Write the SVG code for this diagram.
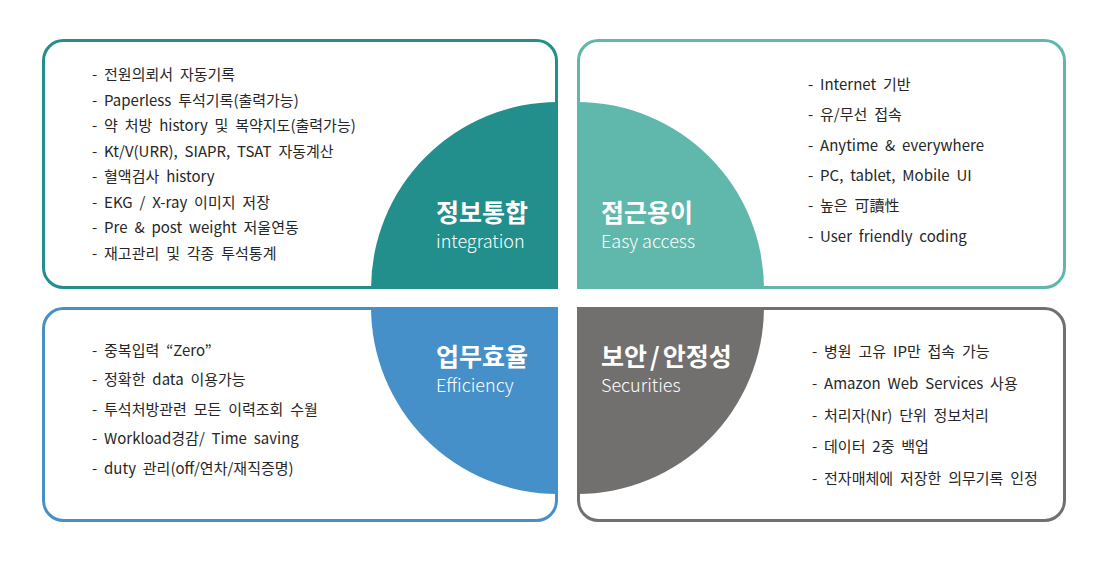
<svg xmlns="http://www.w3.org/2000/svg" width="1110" height="570" viewBox="0 0 1110 570">
<style>
.box{fill:#fff;stroke-width:3}
.li{font-family:"Noto Sans CJK KR","Noto Sans",sans-serif;font-size:15px;word-spacing:3.5px;fill:#262626}
.tt{font-family:"Noto Sans CJK KR","Noto Sans",sans-serif;font-size:25px;font-weight:700;fill:#fff}
.st{font-family:"Noto Sans CJK KR","Noto Sans",sans-serif;font-size:18px;font-weight:300;fill:#fff}
</style>
<rect width="1110" height="570" fill="#fff"/>
<g id="integration">
<rect class="box" x="43.5" y="40.5" width="513" height="247" rx="20" stroke="#238F8C"/>
<path d="M558 289 L371 289 A187 187 0 0 1 558 102 Z" fill="#238F8C"/>
<text class="tt" x="436" y="222">정보통합</text>
<text class="st" x="436" y="248">integration</text>
<g class="li">
<text x="92" y="80">- 전원의뢰서 자동기록</text>
<text x="92" y="106">- Paperless 투석기록(출력가능)</text>
<text x="92" y="131">- 약 처방 history 및 복약지도(출력가능)</text>
<text x="92" y="157">- Kt/V(URR), SIAPR, TSAT 자동계산</text>
<text x="92" y="182">- 혈액검사 history</text>
<text x="92" y="208">- EKG / X-ray 이미지 저장</text>
<text x="92" y="233">- Pre &amp; post weight 저울연동</text>
<text x="92" y="259">- 재고관리 및 각종 투석통계</text>
</g>
</g>
<g id="access">
<rect class="box" x="578.5" y="40.5" width="486" height="247" rx="20" stroke="#60B8AC"/>
<path d="M577 289 L577 102 A187 187 0 0 1 764 289 Z" fill="#60B8AC"/>
<text class="tt" x="601" y="222">접근용이</text>
<text class="st" x="601" y="248">Easy access</text>
<g class="li">
<text x="808" y="90">- Internet 기반</text>
<text x="808" y="120">- 유/무선 접속</text>
<text x="808" y="151">- Anytime &amp; everywhere</text>
<text x="808" y="181">- PC, tablet, Mobile UI</text>
<text x="808" y="211">- 높은 可讀性</text>
<text x="808" y="242">- User friendly coding</text>
</g>
</g>
<g id="efficiency">
<rect class="box" x="43.5" y="308.5" width="513" height="212" rx="20" stroke="#4690C9"/>
<path d="M558 307 L558 494 A187 187 0 0 1 371 307 Z" fill="#4690C9"/>
<text class="tt" x="436" y="366">업무효율</text>
<text class="st" x="436" y="392">Efficiency</text>
<g class="li">
<text x="92" y="356">- 중복입력 “Zero”</text>
<text x="92" y="385">- 정확한 data 이용가능</text>
<text x="92" y="415">- 투석처방관련 모든 이력조회 수월</text>
<text x="92" y="444">- Workload경감/ Time saving</text>
<text x="92" y="474">- duty 관리(off/연차/재직증명)</text>
</g>
</g>
<g id="security">
<rect class="box" x="578.5" y="308.5" width="486" height="212" rx="20" stroke="#71706F"/>
<path d="M577 307 L764 307 A187 187 0 0 1 577 494 Z" fill="#71706F"/>
<text class="tt" x="601" y="366">보안<tspan dx="3">/</tspan><tspan dx="3">안정성</tspan></text>
<text class="st" x="601" y="392">Securities</text>
<g class="li">
<text x="812" y="357">- 병원 고유 IP만 접속 가능</text>
<text x="812" y="389">- Amazon Web Services 사용</text>
<text x="812" y="421">- 처리자(Nr) 단위 정보처리</text>
<text x="812" y="452">- 데이터 2중 백업</text>
<text x="812" y="484">- 전자매체에 저장한 의무기록 인정</text>
</g>
</g>
<g id="connectors"></g>
</svg>
